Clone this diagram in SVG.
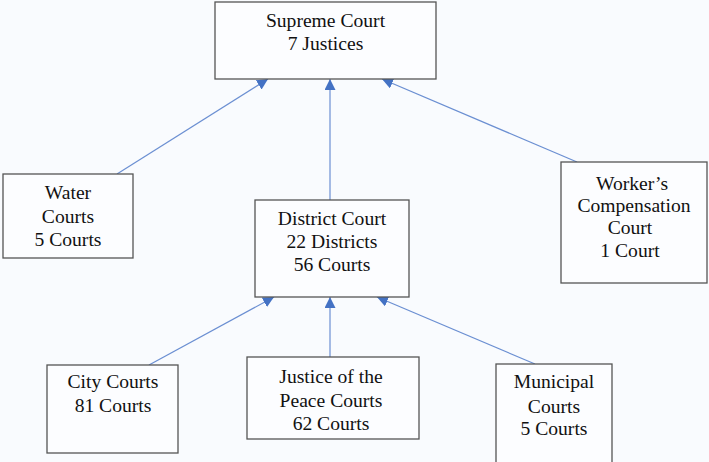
<svg xmlns="http://www.w3.org/2000/svg" width="709" height="462" viewBox="0 0 709 462">
<style>
.box{fill:#fcfdff;stroke:#555;stroke-width:1.3}
.t{font-family:"Liberation Serif","Times New Roman",serif;font-size:19.6px;fill:#111;text-anchor:middle}
.c{stroke:#6b8fd2;stroke-width:1.2;fill:none;marker-end:url(#ah)}
</style>
<defs>
<marker id="ah" viewBox="0 0 10 10" refX="10" refY="5" markerWidth="11" markerHeight="11" markerUnits="userSpaceOnUse" orient="auto">
<path d="M0,0 L10,5 L0,10 z" fill="#4472c4"/>
</marker>
</defs>
<rect width="709" height="462" fill="#f9fbfe"/>
<g id="connectors">
<line class="c" x1="117" y1="174" x2="268" y2="79"/>
<line class="c" x1="330" y1="200" x2="330" y2="79"/>
<line class="c" x1="577" y1="162" x2="382" y2="79"/>
<line class="c" x1="149" y1="365" x2="274" y2="297"/>
<line class="c" x1="330" y1="357" x2="330" y2="297"/>
<line class="c" x1="535" y1="364" x2="377" y2="297"/>
</g>
<g id="supreme">
<rect class="box" x="215" y="2" width="221" height="77"/>
<text class="t" x="325.5" y="27">Supreme Court</text>
<text class="t" x="325.5" y="50">7 Justices</text>
</g>
<g id="water">
<rect class="box" x="3" y="174" width="130" height="84"/>
<text class="t" x="68" y="199">Water</text>
<text class="t" x="68" y="223">Courts</text>
<text class="t" x="68" y="246">5 Courts</text>
</g>
<g id="district">
<rect class="box" x="255" y="200" width="154" height="97"/>
<text class="t" x="332" y="225">District Court</text>
<text class="t" x="332" y="248">22 Districts</text>
<text class="t" x="332" y="271">56 Courts</text>
</g>
<g id="workers">
<rect class="box" x="561" y="162" width="146" height="121"/>
<text class="t" x="632" y="190">Worker’s</text>
<text class="t" x="634" y="212">Compensation</text>
<text class="t" x="630" y="234">Court</text>
<text class="t" x="630" y="257">1 Court</text>
</g>
<g id="city">
<rect class="box" x="47" y="365" width="131" height="88"/>
<text class="t" x="113" y="388">City Courts</text>
<text class="t" x="113" y="412">81 Courts</text>
</g>
<g id="justice">
<rect class="box" x="247" y="357" width="172" height="82"/>
<text class="t" x="331" y="383">Justice of the</text>
<text class="t" x="331" y="407">Peace Courts</text>
<text class="t" x="331" y="430">62 Courts</text>
</g>
<g id="municipal">
<rect class="box" x="496" y="364" width="116" height="100"/>
<text class="t" x="554" y="388">Municipal</text>
<text class="t" x="554" y="413">Courts</text>
<text class="t" x="554" y="435">5 Courts</text>
</g>
</svg>
